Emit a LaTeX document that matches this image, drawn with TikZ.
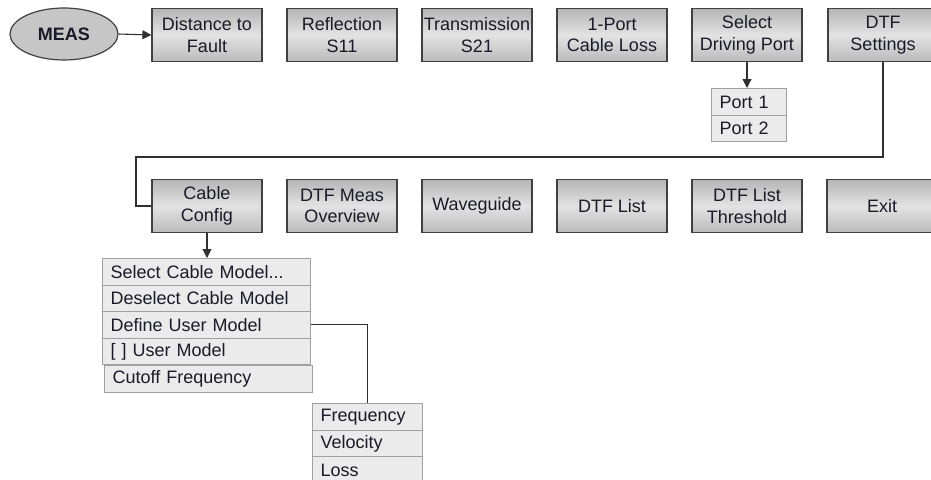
\documentclass[tikz,border=0pt]{standalone}
\usepackage{fontspec}
\setmainfont{Liberation Sans}
\usetikzlibrary{arrows.meta,shapes.geometric,calc}
\definecolor{edge}{HTML}{404040}
\definecolor{wire}{HTML}{303030}
\definecolor{listfill}{HTML}{EBEBEB}
\definecolor{listedge}{HTML}{A0A0A0}
\definecolor{txt}{HTML}{1A1A28}
\pgfdeclareverticalshading{btnshade}{100bp}{color(0bp)=(gray!30); color(20bp)=(gray!60); color(50bp)=(gray!22); color(75bp)=(gray!58); color(100bp)=(gray!15)}
\tikzset{
  btn/.style={rectangle, draw=edge, line width=1.2pt, shading=btnshade,
    minimum width=110pt, minimum height=53pt, inner sep=0pt, align=center,
    text=txt, font=\fontsize{18}{21.5}\selectfont},
  lrow/.style={rectangle, draw=listedge, line width=1.3pt, fill=listfill,
    minimum height=26.5pt, inner xsep=8pt, inner ysep=0pt, anchor=north west,
    text=txt, font=\fontsize{18}{21}\selectfont},
  wirel/.style={draw=wire, line width=1.1pt},
  arr/.style={wirel, -{Triangle[length=9pt,width=9pt]}}
}
\begin{document}
\begin{tikzpicture}[x=1pt,y=-1pt]
\useasboundingbox (0,0) rectangle (931,479);
\node[ellipse, draw=edge, line width=1.2pt, fill=gray!45, minimum width=108pt, minimum height=52pt, inner sep=0pt, font=\fontsize{18}{21}\selectfont\bfseries, text=txt] (meas) at (64,34) {MEAS};
% top row
\node[btn] (b1) at (207,35) {Distance to\\Fault};
\node[btn] (b2) at (342,35) {Reflection\\S11};
\node[btn] (b3) at (477,35) {Transmission\\S21};
\node[btn] (b4) at (612,35) {1-Port\\Cable Loss};
\node[btn] (b5) at (747,35) {Select\\Driving Port};
\node[btn] (b6) at (883,35) {DTF\\Settings};
% ports
\node[lrow, minimum width=75pt, text width=59pt] (p1) at (711,88) {Port 1};
\node[lrow, minimum width=75pt, text width=59pt] (p2) at (711,114.5) {Port 2};
% second row
\node[btn] (c1) at (207,206) {Cable\\Config};
\node[btn] (c2) at (342,206) {DTF Meas\\Overview};
\node[btn] (c3) at (477,206) {Waveguide};
\node[btn] (c4) at (612,206) {DTF List};
\node[btn] (c5) at (747,206) {DTF List\\Threshold};
\node[btn] (c6) at (882,206) {Exit};
% cable list
\node[lrow, minimum width=208pt, text width=192pt] (l1) at (102,258) {Select Cable Model...};
\node[lrow, minimum width=208pt, text width=192pt] (l2) at (102,284.5) {Deselect Cable Model};
\node[lrow, minimum width=208pt, text width=192pt] (l3) at (102,311) {Define User Model};
\node[lrow, minimum width=208pt, text width=192pt] (l4) at (102,337.5) {[ ] User Model};
\node[lrow, minimum width=208pt, text width=192pt] (l5) at (104,365) {Cutoff Frequency};
% user model list
\node[lrow, minimum width=110pt, text width=94pt] (f1) at (312,403) {Frequency};
\node[lrow, minimum width=110pt, text width=94pt] (f2) at (312,429.5) {Velocity};
\node[lrow, minimum width=110pt, text width=94pt] (f3) at (312,456) {Loss};
% connectors
\draw[arr] (meas.east) -- (b1.west);
\draw[arr] (b5.south) -- (p1.north -| b5.south);
\coordinate (k1) at (136,157);
\draw[wirel] (b6.south) |- (k1) |- (c1.west);
\draw[arr] (c1.south) -- (l1.north -| c1.south);
\draw[wirel] (l3.east) -| (f1.north);
\end{tikzpicture}
\end{document}
